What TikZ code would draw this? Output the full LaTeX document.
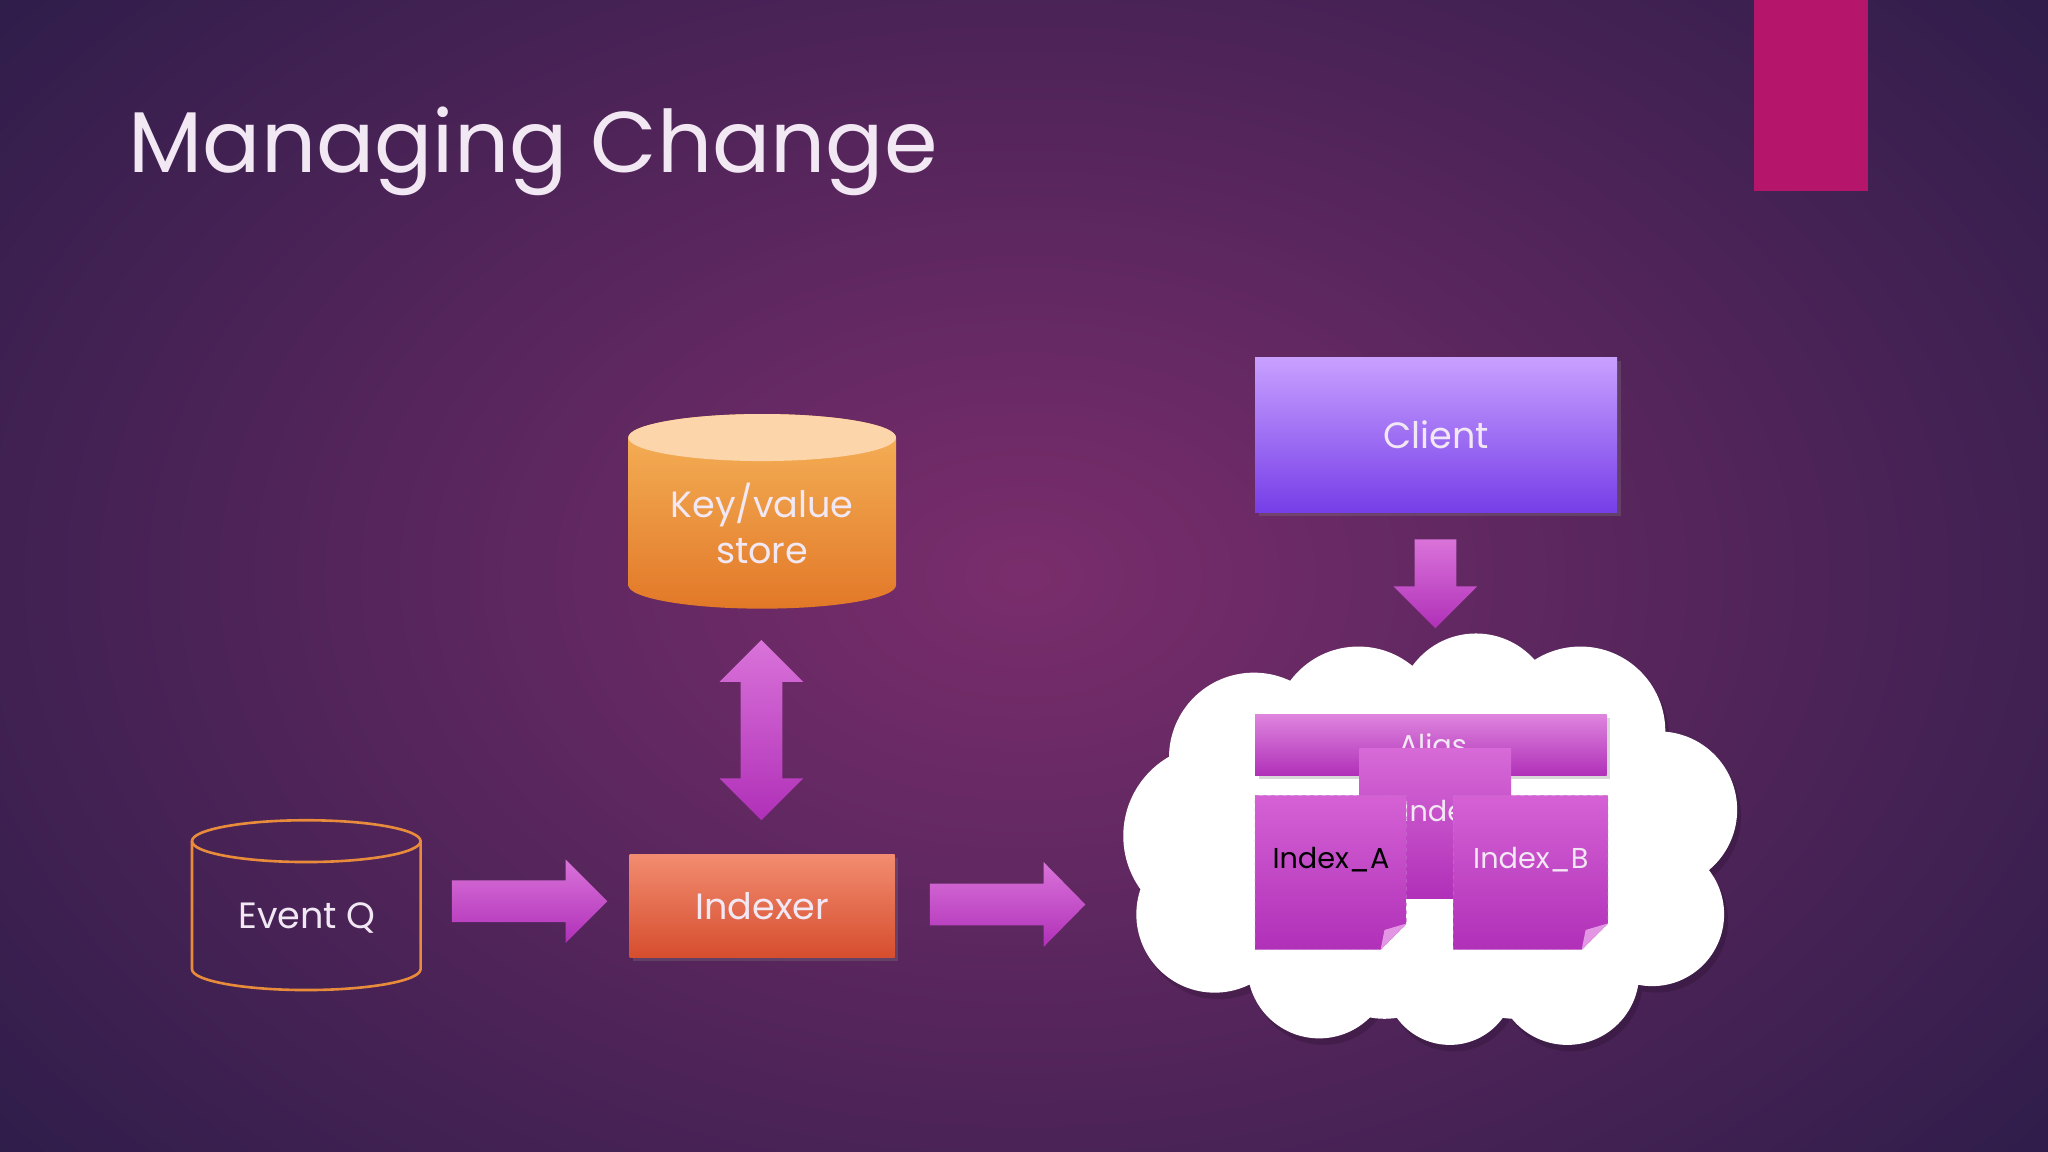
\documentclass[tikz,border=0pt]{standalone}
\usepackage{fontspec}
\setmainfont{Poppins}
\usetikzlibrary{shapes.geometric,shapes.arrows,shadows}
\definecolor{bgin}{HTML}{7A2D6C}
\definecolor{bgout}{HTML}{2A1C48}
\definecolor{txt}{HTML}{F2E8F4}
\definecolor{mag}{HTML}{D050D0}
\definecolor{magd}{HTML}{B030B8}
\definecolor{rubin}{HTML}{B5156B}
\definecolor{kvtop}{HTML}{FCD6AA}
\definecolor{kvhi}{HTML}{F6B45A}
\definecolor{kvlo}{HTML}{E27828}
\definecolor{evq}{HTML}{E88C3C}
\definecolor{ixhi}{HTML}{F28C70}
\definecolor{ixlo}{HTML}{D64E2E}
\definecolor{clhi}{HTML}{C8A0FF}
\definecolor{cllo}{HTML}{763EE8}
\tikzset{
  lbl/.style={text=txt,font=\fontsize{28}{35}\selectfont},
  blockarr/.style={left color=mag!80!white,right color=magd},
  blockarrv/.style={top color=mag!80!white,bottom color=magd},
  ixbox/.style={draw=magd!70,dashed,top color=mag!90!white,bottom color=magd,inner sep=0pt},
  smalltxt/.style={font=\fontsize{22}{24}\selectfont},
}
\begin{document}
\begin{tikzpicture}[x=1pt,y=-1pt]
\useasboundingbox (0,0) rectangle (1568,882);
\shade[inner color=bgin,outer color=bgout] (-300,-300) rectangle (1868,1182);
\node[anchor=base west,text=txt,font=\fontsize{66}{74}\selectfont] (title) at (95,132) {Managing Change};
\fill[rubin] (1343,0) rectangle (1430,146);
% Key/value store cylinder
\shade[top color=kvhi,bottom color=kvlo]
  (481,335) -- (481,448) arc[start angle=180,end angle=0,x radius=102.5,y radius=18] -- (686,335) arc[start angle=0,end angle=-180,x radius=102.5,y radius=18] -- cycle;
\fill[kvtop] (583.5,335) ellipse[x radius=102.5,y radius=18];
\node[lbl,align=center] (kv) at (583.5,401) {Key/value\\store};
% double arrow
\shade[blockarrv] (583,490) -- (615,522) -- (599,522) -- (599,596) -- (615,596) -- (583,628) -- (551,596) -- (567,596) -- (567,522) -- (551,522) -- cycle;
% Event Q
\draw[line width=2pt,draw=evq] (147,644) -- (147,742) arc[start angle=180,end angle=0,x radius=87.5,y radius=16] -- (322,644);
\draw[line width=2pt,draw=evq] (234.5,644) ellipse[x radius=87.5,y radius=16];
\node[lbl] (evqn) at (235,703) {Event Q};
% arrows
\shade[blockarrv] (346,674) -- (433,674) -- (433,658) -- (465,690) -- (433,722) -- (433,706) -- (346,706) -- cycle;
\shade[blockarrv] (712,676.5) -- (799,676.5) -- (799,660) -- (831,692.5) -- (799,725) -- (799,708.5) -- (712,708.5) -- cycle;
% Indexer
\node[lbl,minimum width=203pt,minimum height=79pt,top color=ixhi,bottom color=ixlo,drop shadow={opacity=0.3}] (indexer) at (583.5,693.5) {Indexer};
% Client
\node[lbl,minimum width=277pt,minimum height=118pt,top color=clhi,bottom color=cllo,drop shadow={opacity=0.3}] (client) at (1099.5,333) {Client};
\shade[blockarrv] (1083,413) -- (1115,413) -- (1115,449) -- (1131,449) -- (1099,481) -- (1067,449) -- (1083,449) -- cycle;
% cloud
\fill[black,opacity=0.15,shift={(3,5)}]
 (930,640) circle(70) (960,580) circle(65) (1040,560) circle(65) (1130,545) circle(60) (1210,560) circle(65) (1270,620) circle(60) (1265,700) circle(55) (1200,745) circle(55) (1110,750) circle(50) (1010,740) circle(55) (930,700) circle(60);
\fill[white] (930,640) circle(70) (960,580) circle(65) (1040,560) circle(65) (1130,545) circle(60) (1210,560) circle(65) (1270,620) circle(60) (1265,700) circle(55) (1200,745) circle(55) (1110,750) circle(50) (1010,740) circle(55) (930,700) circle(60) (1060,720) circle(60) (1160,720) circle(60);
\fill[white] (930,580) rectangle (1262,745);
\node[top color=mag!70!white,bottom color=magd,minimum width=269pt,minimum height=47pt,inner sep=0pt,drop shadow={opacity=0.3}] (alias) at (1095.5,570.5) {};
\node[text=txt,smalltxt] (aliast) at (1097,570) {Alias};
\node[top color=mag!85!white,bottom color=magd,minimum width=116pt,minimum height=115pt,inner sep=0pt] (mid) at (1099,630.5) {};
\node[text=txt,smalltxt] (midt) at (1103,621) {Index};
% Index_A
\shade[ixbox] (961,609) -- (1077,609) -- (1077,707) -- (1057,727) -- (961,727) -- cycle;
\fill[mag!60!white] (1077,707) -- (1060,712) -- (1057,727) -- cycle;
\node[text=black,smalltxt] (ia) at (1019,658) {Index\_A};
% Index_B
\shade[ixbox] (1113,609) -- (1231,609) -- (1231,707) -- (1211,727) -- (1113,727) -- cycle;
\fill[mag!60!white] (1231,707) -- (1214,712) -- (1211,727) -- cycle;
\node[text=txt,smalltxt] (ib) at (1172,658) {Index\_B};
\end{tikzpicture}
\end{document}
